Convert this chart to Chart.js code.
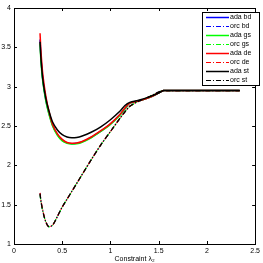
<!DOCTYPE html>
<html><head><meta charset="utf-8">
<script src="https://cdn.jsdelivr.net/npm/chart.js@4/dist/chart.umd.min.js"></script>
<style>html,body{margin:0;padding:0;background:#fff}#c{display:block}</style>
</head><body>
<canvas id="c" width="263" height="263"></canvas>
<script>
const xTicks = [0, 0.5, 1, 1.5, 2, 2.5];
const yTicks = [1, 1.5, 2, 2.5, 3, 3.5, 4];
const labels = ["ada bd","orc bd","ada gs","orc gs","ada de","orc de","ada st","orc st"];
const colors = ["#0000ff","#0000ff","#00ff00","#00ff00","#ff0000","#ff0000","#000000","#000000"];
const lambda = [0.27,0.28,0.30,0.33,0.36,0.40,0.45,0.50,0.55,0.60,0.65,0.70,0.80,0.90,1.00,1.10,1.15,1.20,1.30,1.40,1.50,1.55,1.60,1.80,2.00,2.20,2.34];
const adaBd = [3.60,3.36,3.07,2.83,2.67,2.51,2.39,2.32,2.285,2.275,2.28,2.295,2.355,2.435,2.525,2.645,2.72,2.79,2.82,2.86,2.92,2.95,2.95,2.95,2.95,2.95,2.95];
const orcBd = [1.64,1.54,1.41,1.28,1.22,1.24,1.35,1.47,1.57,1.67,1.77,1.87,2.07,2.26,2.43,2.60,2.68,2.75,2.82,2.87,2.93,2.95,2.95,2.95,2.95,2.95,2.95];
const adaGs = [3.55,3.31,3.05,2.82,2.66,2.50,2.38,2.31,2.28,2.27,2.275,2.29,2.35,2.43,2.52,2.64,2.72,2.79,2.82,2.86,2.92,2.95,2.95,2.95,2.95,2.95,2.95];
const orcGs = [1.63,1.53,1.41,1.28,1.22,1.24,1.35,1.47,1.57,1.67,1.77,1.87,2.07,2.26,2.43,2.60,2.68,2.75,2.82,2.87,2.93,2.95,2.95,2.95,2.95,2.95,2.95];
const adaDe = [3.68,3.44,3.14,2.88,2.70,2.52,2.40,2.33,2.29,2.28,2.285,2.30,2.36,2.44,2.53,2.65,2.73,2.79,2.82,2.86,2.92,2.95,2.95,2.95,2.95,2.95,2.95];
const orcDe = [1.65,1.55,1.42,1.28,1.22,1.24,1.35,1.47,1.57,1.67,1.77,1.87,2.07,2.26,2.43,2.60,2.68,2.75,2.82,2.87,2.93,2.95,2.95,2.95,2.95,2.95,2.95];
const adaSt = [3.57,3.35,3.08,2.85,2.70,2.55,2.45,2.39,2.36,2.35,2.355,2.37,2.42,2.49,2.58,2.69,2.76,2.80,2.83,2.87,2.92,2.95,2.95,2.95,2.95,2.95,2.95];
const orcSt = [1.64,1.54,1.41,1.28,1.22,1.24,1.35,1.47,1.57,1.67,1.77,1.87,2.07,2.26,2.43,2.60,2.68,2.75,2.82,2.87,2.93,2.95,2.95,2.95,2.95,2.95,2.95];
const series = [adaBd, orcBd, adaGs, orcGs, adaDe, orcDe, adaSt, orcSt];

const FONT = '"Liberation Sans", Arial, sans-serif';
const datasets = series.map((ys, i) => {
  const orc = i % 2 === 1;
  return {
    label: labels[i],
    data: lambda.map((x, k) => ({x: x, y: ys[k]})),
    borderColor: colors[i],
    backgroundColor: colors[i],
    borderWidth: orc ? 1.2 : 1.5,
    borderDash: orc ? [5, 2, 1, 2] : [],
    pointRadius: 0,
    tension: 0.3,
    fill: false,
    order: 7 - i
  };
});

const framePlugin = {
  id: 'frame',
  afterDatasetsDraw(chart) {
    const ctx = chart.ctx, a = chart.chartArea;
    const xs = chart.scales.x, ys = chart.scales.y;
    ctx.save();
    ctx.strokeStyle = '#000';
    ctx.lineWidth = 1;
    ctx.setLineDash([]);
    ctx.strokeRect(Math.round(a.left) + 0.5, Math.round(a.top) + 0.5, Math.round(a.right - a.left), Math.round(a.bottom - a.top));
    ctx.beginPath();
    xTicks.forEach(v => {
      const p = Math.round(xs.getPixelForValue(v)) + 0.5;
      ctx.moveTo(p, a.bottom); ctx.lineTo(p, a.bottom - 3);
      ctx.moveTo(p, a.top); ctx.lineTo(p, a.top + 3);
    });
    yTicks.forEach(v => {
      const p = Math.round(ys.getPixelForValue(v)) + 0.5;
      ctx.moveTo(a.left, p); ctx.lineTo(a.left + 3, p);
      ctx.moveTo(a.right, p); ctx.lineTo(a.right - 3, p);
    });
    ctx.stroke();
    // legend
    const lx = 202, ly = 12, lw = 57, lh = 73;
    ctx.fillStyle = '#fff';
    ctx.fillRect(lx, ly, lw, lh);
    ctx.strokeRect(lx + 0.5, ly + 0.5, lw, lh);
    ctx.font = '7px ' + FONT;
    ctx.textBaseline = 'middle';
    chart.data.datasets.forEach((d, i) => {
      const y = ly + 5 + i * 9;
      ctx.beginPath();
      ctx.strokeStyle = d.borderColor;
      ctx.lineWidth = d.borderWidth;
      ctx.setLineDash(d.borderDash);
      ctx.moveTo(lx + 4, y + 0.5); ctx.lineTo(lx + 27, y + 0.5);
      ctx.stroke();
      ctx.setLineDash([]);
      ctx.fillStyle = '#000';
      ctx.fillText(d.label, lx + 28, y + 0.5);
    });
    ctx.restore();
  }
};

new Chart(document.getElementById('c'), {
  type: 'line',
  data: { datasets: datasets },
  options: {
    responsive: false,
    animation: false,
    devicePixelRatio: 1,
    layout: { padding: { top: 8, right: 4, left: 0, bottom: 0 } },
    plugins: { legend: { display: false }, tooltip: { enabled: false } },
    scales: {
      x: {
        type: 'linear', min: 0, max: 2.5,
        afterBuildTicks: s => { s.ticks = xTicks.map(v => ({value: v})); },
        afterFit: s => { s.height = 19; },
        grid: { display: false, drawTicks: false },
        border: { display: false },
        ticks: { font: { family: FONT, size: 7 }, color: '#000', padding: 3, maxRotation: 0, autoSkip: false, callback: v => String(v) },
        title: { display: true, text: 'Constraint λ₂', font: { family: FONT, size: 7 }, color: '#000', padding: { top: 0, bottom: 0 } }
      },
      y: {
        type: 'linear', min: 1, max: 4,
        afterBuildTicks: s => { s.ticks = yTicks.map(v => ({value: v})); },
        afterFit: s => { s.width = 14; },
        grid: { display: false, drawTicks: false },
        border: { display: false },
        ticks: { font: { family: FONT, size: 7 }, color: '#000', padding: 3, autoSkip: false, callback: v => String(v) }
      }
    }
  },
  plugins: [framePlugin]
});
</script>
</body></html>
